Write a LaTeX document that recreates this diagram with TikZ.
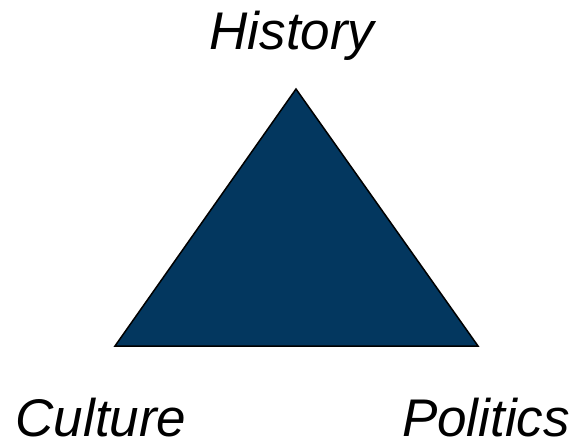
\documentclass[tikz,border=0pt]{standalone}
\usepackage{fontspec}
\setmainfont{Liberation Sans}
\definecolor{navy}{HTML}{03375F}
\tikzset{
  corner/.style={font=\fontsize{53}{60}\selectfont\itshape, inner sep=0pt, anchor=base}
}
\begin{document}
\begin{tikzpicture}[x=1pt,y=-1pt]
\useasboundingbox (0,0) rectangle (578,446);
% triangle corners
\coordinate (top) at (296,89);
\coordinate (left) at (115,346);
\coordinate (right) at (478,346);
\filldraw[fill=navy, draw=black, line width=1.5pt, line join=miter] (top) -- (left) -- (right) -- cycle;

% labels
\node[corner] (history) at (292,50) {History};
\node[corner] (culture) at (101,436) {Culture};
\node[corner] (politics) at (486,436) {Politics};
\end{tikzpicture}
\end{document}
